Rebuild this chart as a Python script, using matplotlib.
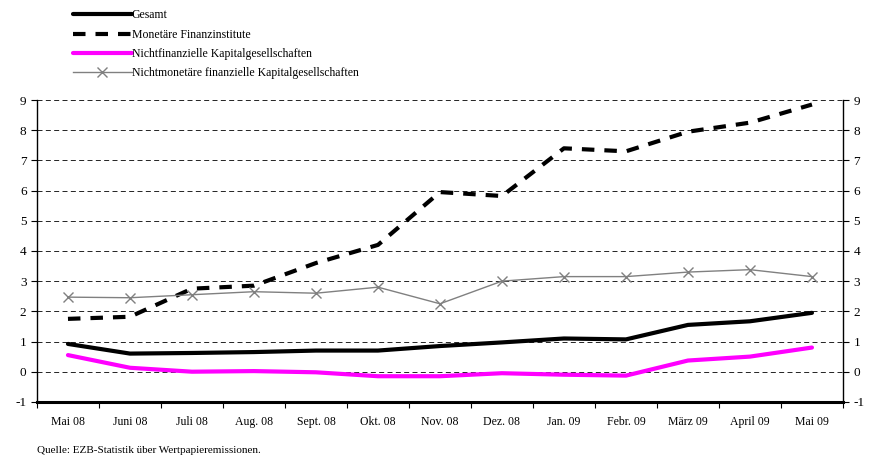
import matplotlib
matplotlib.use('Agg')
import matplotlib.pyplot as plt
import numpy as np

plt.rcParams['font.family'] = ['Liberation Serif', 'DejaVu Serif']
plt.rcParams['axes.unicode_minus'] = False

months = ["Mai 08", "Juni 08", "Juli 08", "Aug. 08", "Sept. 08", "Okt. 08", "Nov. 08",
          "Dez. 08", "Jan. 09", "Febr. 09", "März 09", "April 09", "Mai 09"]
gesamt = [0.92, 0.60, 0.62, 0.65, 0.70, 0.70, 0.85, 0.97, 1.10, 1.07, 1.55, 1.67, 1.95]
mfi = [1.75, 1.82, 2.75, 2.85, 3.60, 4.20, 5.95, 5.82, 7.40, 7.30, 7.95, 8.25, 8.85]
nfc = [0.55, 0.13, 0.00, 0.02, -0.02, -0.15, -0.15, -0.05, -0.10, -0.13, 0.37, 0.50, 0.80]
nonmfi = [2.47, 2.45, 2.55, 2.65, 2.60, 2.80, 2.25, 3.00, 3.15, 3.15, 3.30, 3.38, 3.15]

fig = plt.figure(figsize=(8.72, 4.63), dpi=100)
ax = fig.add_axes([0.0424, 0.132, 0.9243, 0.652])
x = np.arange(len(months))

ax.plot(x, gesamt, color='black', lw=3, solid_capstyle='round', label='Gesamt')
ax.plot(x, mfi, color='black', lw=3, linestyle=(0, (3, 2.4)), label='Monetäre Finanzinstitute')
ax.plot(x, nfc, color='#ff00ff', lw=3, solid_capstyle='round',
        label='Nichtfinanzielle Kapitalgesellschaften')
ax.plot(x, nonmfi, color='#808080', lw=1, marker='x', markersize=7, markeredgewidth=1,
        label='Nichtmonetäre finanzielle Kapitalgesellschaften')

ax.set_xlim(-0.5, len(months) - 0.5)
ax.set_ylim(-1, 9)
ax.set_yticks(range(-1, 10))
ax.yaxis.grid(True, color='black', linestyle=(0, (6, 4)), lw=0.6)
ax.set_axisbelow(True)

ax.set_xticks(x)
ax.set_xticklabels(months, fontsize=8.5)
ax.tick_params(axis='x', length=0, pad=10)
ax.set_xticks(np.arange(-0.5, len(months)), minor=True)
ax.tick_params(axis='x', which='minor', length=4, direction='out', width=0.8)

ax.tick_params(axis='y', labelsize=9.5, length=4, width=0.8, direction='out',
               left=True, right=True, labelleft=True, labelright=True)

ax.spines['top'].set_visible(False)
ax.spines['bottom'].set_linewidth(2.2)
ax.spines['left'].set_linewidth(1)
ax.spines['right'].set_linewidth(1)

fig.legend(loc='upper left', bbox_to_anchor=(0.078, 0.99), frameon=False, fontsize=8.5,
           handlelength=5.0, handletextpad=0.0, labelspacing=0.62, borderaxespad=0)

fig.text(0.043, 0.022, 'Quelle: EZB-Statistik über Wertpapieremissionen.', fontsize=8)

fig.savefig('out.png', dpi=100)
